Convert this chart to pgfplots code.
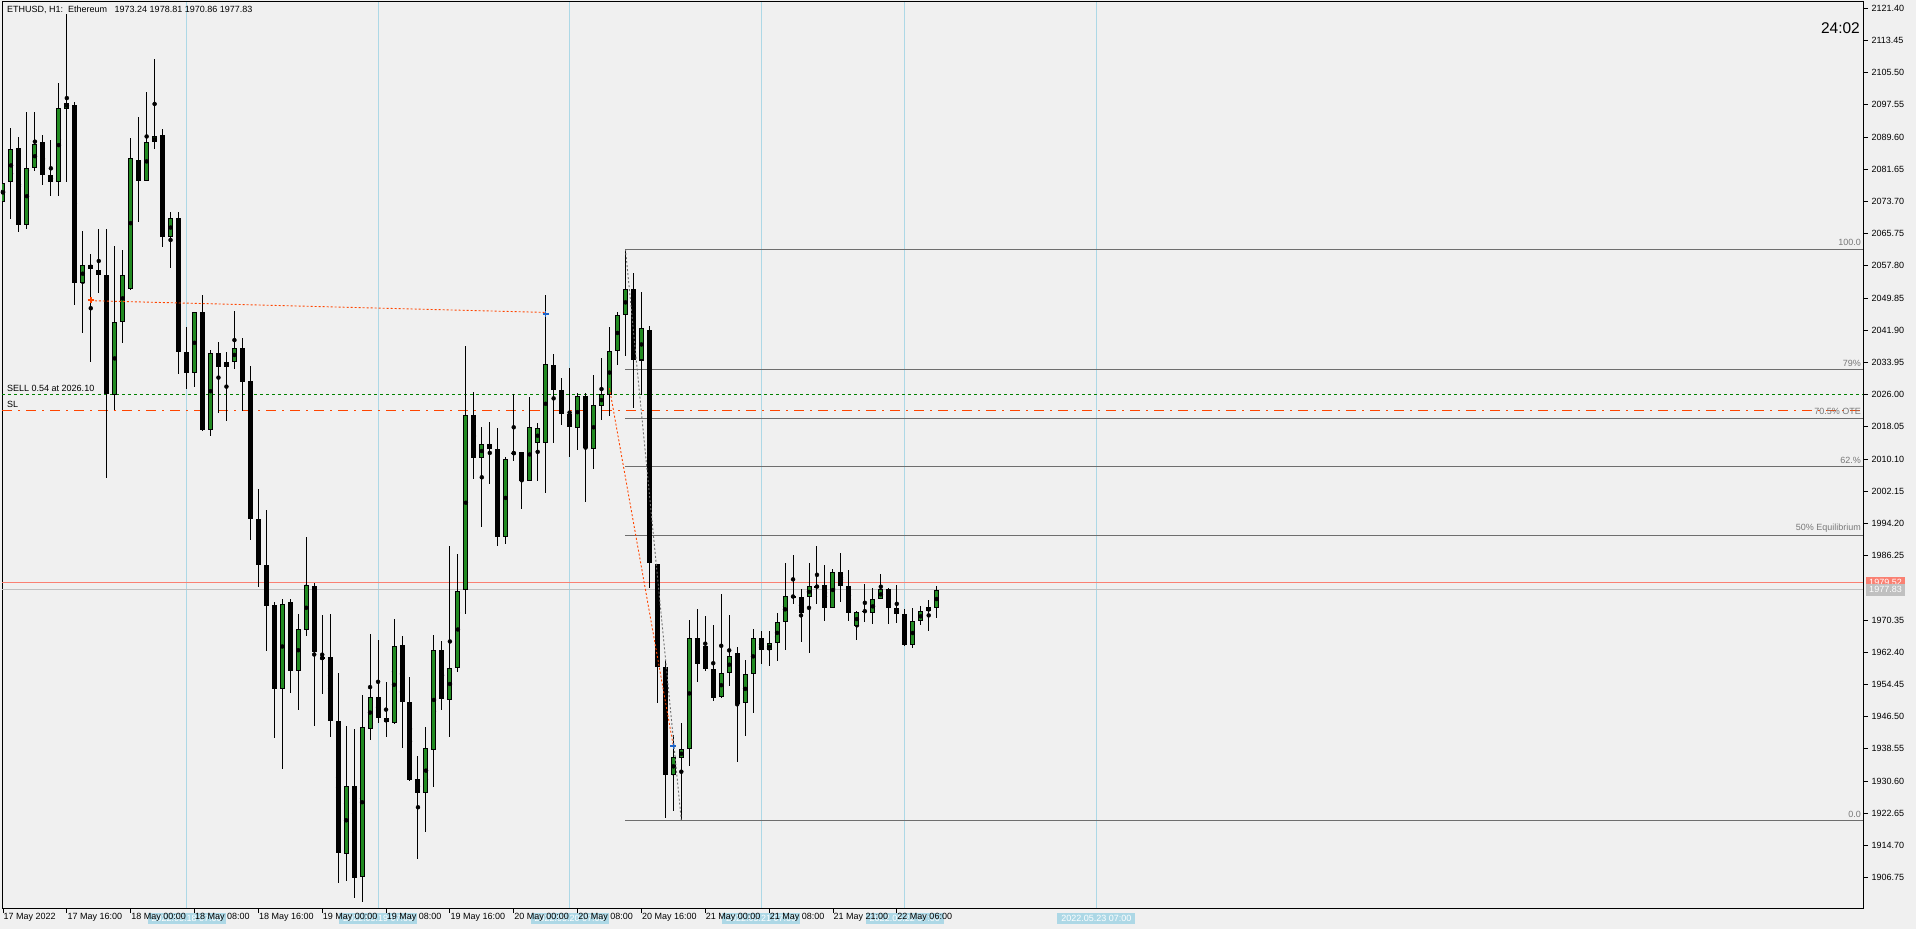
\documentclass[border=0pt]{standalone}
\usepackage{pgfplots}
\pgfplotsset{compat=1.18}
\usepackage{pgfplotstable}
\usepackage{fontspec}
\setmainfont{Liberation Sans}
\definecolor{bg}{RGB}{240,240,240}
\definecolor{candlegreen}{RGB}{34,139,34}
\definecolor{cyanline}{RGB}{173,216,230}
\definecolor{fibgray}{RGB}{110,110,110}
\definecolor{fibtext}{RGB}{120,120,120}
\definecolor{sellgreen}{RGB}{0,128,0}
\definecolor{slred}{RGB}{255,69,0}
\definecolor{bidsalmon}{RGB}{250,128,114}
\definecolor{lastgray}{RGB}{192,192,192}
\definecolor{markblue}{RGB}{30,100,200}
\newcommand{\chartfont}{\fontsize{9}{10}\selectfont}

\pgfplotstableread{
i o h l c
0 2073.57 2079.50 2072.80 2078.30
1 2078.59 2091.77 2069.42 2086.61
3 2067.98 2095.79 2066.83 2082.03
4 2081.89 2095.79 2081.17 2087.90
7 2078.45 2102.95 2075.15 2096.79
8 2096.65 2120.01 2078.45 2098.08
10 2053.65 2066.41 2041.32 2058.09
14 2025.99 2062.68 2022.26 2043.90
15 2044.05 2061.67 2038.88 2055.51
16 2052.21 2089.34 2051.78 2084.47
18 2078.87 2100.80 2078.73 2088.33
19 2088.33 2108.97 2086.61 2089.77
21 2064.83 2070.99 2057.38 2069.70
24 2031.29 2046.34 2028.00 2046.34
26 2017.38 2037.02 2015.67 2036.31
28 2032.86 2036.59 2019.39 2034.01
29 2034.01 2046.63 2032.29 2037.60
35 1953.21 1975.66 1933.67 1974.41
37 1957.68 1971.81 1948.22 1968.07
38 1967.86 1990.83 1966.30 1978.88
40 1960.69 1971.60 1951.96 1961.21
43 1912.47 1944.16 1905.81 1929.31
45 1906.85 1951.86 1900.72 1943.85
46 1943.54 1966.93 1940.63 1951.44
49 1944.89 1970.56 1944.69 1963.81
53 1927.64 1943.96 1918.08 1938.66
54 1938.35 1966.61 1928.99 1962.87
56 1950.71 1988.75 1941.36 1958.40
57 1958.61 1986.67 1957.57 1977.42
58 1977.73 2038.01 1971.81 2020.87
60 2010.26 2017.96 1993.22 2013.90
63 1990.77 2010.71 1989.16 2010.23
64 2011.50 2026.20 2009.67 2011.60
66 2004.56 2025.45 2004.56 2017.89
67 2014.01 2019.02 2004.75 2017.70
68 2014.01 2050.59 2001.82 2033.48
72 2017.70 2026.30 2012.41 2025.64
74 2012.50 2030.83 2007.59 2023.37
75 2023.09 2034.99 2019.78 2026.20
76 2026.02 2042.74 2020.72 2036.88
77 2036.88 2046.52 2033.39 2045.58
78 2045.58 2061.93 2035.65 2052.00
80 2034.43 2051.34 2025.83 2042.36
84 1931.99 1941.91 1923.10 1936.43
85 1936.24 1944.93 1920.84 1938.41
86 1938.41 1970.35 1934.16 1966.01
90 1951.27 1976.78 1951.17 1957.22
91 1957.17 1971.58 1954.13 1961.45
93 1949.76 1960.47 1941.78 1956.93
94 1956.93 1968.12 1947.46 1965.82
96 1962.85 1967.63 1959.07 1964.58
97 1964.58 1972.07 1960.30 1969.77
98 1969.77 1984.42 1963.02 1976.19
101 1975.94 1984.42 1962.28 1978.66
104 1973.39 1982.86 1973.39 1982.12
107 1968.95 1972.57 1965.49 1972.24
109 1971.99 1978.25 1969.44 1975.45
110 1975.45 1981.70 1975.45 1977.92
114 1964.25 1973.31 1963.51 1970.02
115 1970.02 1973.80 1969.19 1972.49
116 1972.49 1975.28 1967.71 1973.47
117 1973.24 1978.81 1970.86 1977.83
}\upcandles

\pgfplotstableread{
i o h l c
2 2086.90 2089.63 2066.12 2067.98
5 2088.33 2090.05 2077.87 2080.31
6 2080.16 2088.76 2075.00 2078.59
9 2097.65 2098.37 2048.06 2053.50
11 2058.09 2060.67 2034.01 2057.09
12 2056.80 2066.83 2051.21 2055.51
13 2055.51 2066.83 2005.49 2026.27
17 2084.03 2094.50 2068.70 2078.87
20 2090.05 2091.63 2062.54 2064.83
22 2069.56 2070.99 2031.00 2036.59
23 2036.45 2042.76 2027.28 2031.29
25 2046.34 2050.64 2017.10 2017.38
27 2036.31 2039.03 2021.40 2032.72
30 2037.60 2039.89 2021.97 2029.14
31 2029.28 2033.03 1990.00 1995.19
32 1995.19 2002.68 1978.57 1983.87
33 1983.87 1997.48 1962.77 1973.89
34 1974.00 1974.82 1941.26 1953.21
36 1974.72 1975.45 1952.27 1957.68
39 1978.67 1979.61 1944.06 1962.46
41 1961.31 1971.81 1941.36 1945.41
42 1945.31 1957.26 1905.50 1912.78
44 1929.31 1943.44 1901.66 1906.65
47 1951.44 1965.37 1944.79 1946.14
48 1946.04 1955.08 1941.36 1945.10
50 1964.12 1966.41 1938.86 1949.99
51 1949.99 1956.33 1930.65 1930.76
52 1930.97 1936.79 1911.43 1927.64
55 1962.87 1965.26 1948.01 1950.71
59 2021.07 2026.58 2005.28 2010.26
61 2013.92 2019.21 2004.00 2012.69
62 2012.69 2017.79 1988.69 1990.77
65 2011.75 2011.84 1997.85 2004.56
69 2033.29 2036.03 2014.11 2027.05
70 2027.05 2030.08 2018.55 2021.20
71 2021.10 2032.53 2010.61 2017.89
73 2025.64 2026.30 1999.56 2012.69
79 2052.19 2055.97 2022.71 2034.62
81 2042.08 2042.93 1978.29 1984.34
82 1984.06 1984.06 1949.94 1958.64
83 1958.64 1960.15 1921.40 1931.99
87 1966.01 1973.10 1955.14 1959.39
88 1963.83 1971.30 1957.70 1958.26
89 1958.26 1969.13 1950.23 1950.98
92 1962.11 1963.68 1935.36 1949.52
95 1965.82 1967.63 1959.56 1962.85
99 1976.19 1986.40 1974.38 1976.11
100 1975.94 1977.98 1964.99 1971.99
102 1978.66 1988.62 1974.38 1978.58
103 1978.91 1983.93 1970.18 1973.39
105 1982.12 1986.89 1974.87 1978.66
106 1978.66 1982.69 1970.18 1971.99
108 1972.57 1979.23 1969.93 1972.49
111 1977.92 1978.17 1969.44 1973.23
112 1973.23 1978.99 1969.69 1971.74
113 1971.74 1973.06 1964.01 1964.25
}\downcandles

\begin{document}
\begin{tikzpicture}
\path[use as bounding box] (0,0) rectangle (1916pt,929pt);
\fill[bg] (0,0) rectangle (1916pt,929pt);
\begin{axis}[
  at={(2pt,21pt)}, anchor=south west,
  width=1861pt, height=906pt, scale only axis,
  xmin=-0.125, xmax=233.08, ymin=1899.22, ymax=2122.96,
  clip mode=individual,
  axis line style={black, line width=1pt},
  xtick={0,8,...,112}, xticklabels={},
  ytick={1906.75,1914.70,1922.65,1930.60,1938.55,1946.50,1954.45,1962.40,1970.35,1986.25,1994.20,2002.15,2010.10,2018.05,2026.00,2033.95,2041.90,2049.85,2057.80,2065.75,2073.70,2081.65,2089.60,2097.55,2105.50,2113.45,2121.40},
  ytick pos=right, yticklabel pos=right, xtick pos=left,
  tick align=outside, major tick length=5pt,
  tick style={black, line width=0.8pt},
  scaled y ticks=false,
  /pgf/number format/assume math mode=true,
  yticklabel style={font=\chartfont, /pgf/number format/.cd, fixed, fixed zerofill, precision=2, 1000 sep={}},
]
% vertical day separators
\addplot[cyanline, line width=1pt, forget plot] coordinates {(23,1899.22) (23,2122.96)};
\addplot[cyanline, line width=1pt, forget plot] coordinates {(47,1899.22) (47,2122.96)};
\addplot[cyanline, line width=1pt, forget plot] coordinates {(71,1899.22) (71,2122.96)};
\addplot[cyanline, line width=1pt, forget plot] coordinates {(95,1899.22) (95,2122.96)};
\addplot[cyanline, line width=1pt, forget plot] coordinates {(113,1899.22) (113,2122.96)};
\addplot[cyanline, line width=1pt, forget plot] coordinates {(137,1899.22) (137,2122.96)};
% fibonacci levels
\addplot[fibgray, line width=1pt, forget plot] coordinates {(78,2061.9) (233.08,2061.9)};
\addplot[fibgray, line width=1pt, forget plot] coordinates {(78,2032.1) (233.08,2032.1)};
\addplot[fibgray, line width=1pt, forget plot] coordinates {(78,2020.2) (233.08,2020.2)};
\addplot[fibgray, line width=1pt, forget plot] coordinates {(78,2008.3) (233.08,2008.3)};
\addplot[fibgray, line width=1pt, forget plot] coordinates {(78,1991.3) (233.08,1991.3)};
\addplot[fibgray, line width=1pt, forget plot] coordinates {(78,1920.8) (233.08,1920.8)};
% order lines
\addplot[sellgreen, line width=1pt, dash pattern=on 3pt off 3pt, forget plot] coordinates {(-0.125,2026.10) (233.08,2026.10)};
\addplot[slred, line width=1.2pt, dash pattern=on 10pt off 6pt on 2pt off 6pt, forget plot] coordinates {(-0.125,2022.1) (233.08,2022.1)};
\addplot[bidsalmon, line width=1pt, forget plot] coordinates {(-0.125,1979.52) (233.08,1979.52)};
\addplot[lastgray, line width=1pt, forget plot] coordinates {(-0.125,1977.83) (233.08,1977.83)};
% wicks
\addplot[only marks, mark=none, forget plot, error bars/.cd, y dir=both, y explicit, error mark=none, error bar style={draw=black, line width=1pt}]
  table[x=i, y expr={(\thisrow{h}+\thisrow{l})/2}, y error expr={(\thisrow{h}-\thisrow{l})/2}] {\upcandles};
\addplot[only marks, mark=none, forget plot, error bars/.cd, y dir=both, y explicit, error mark=none, error bar style={draw=black, line width=1pt}]
  table[x=i, y expr={(\thisrow{h}+\thisrow{l})/2}, y error expr={(\thisrow{h}-\thisrow{l})/2}] {\downcandles};
% bodies
\addplot[only marks, mark=none, forget plot, error bars/.cd, y dir=both, y explicit, error mark=none, error bar style={draw=black, line width=5pt}]
  table[x=i, y expr={(\thisrow{o}+\thisrow{c})/2}, y error expr={max(abs(\thisrow{c}-\thisrow{o})/2,0.13)}] {\downcandles};
\addplot[only marks, mark=none, forget plot, error bars/.cd, y dir=both, y explicit, error mark=none, error bar style={draw=black, line width=5pt}]
  table[x=i, y expr={(\thisrow{o}+\thisrow{c})/2}, y error expr={max(abs(\thisrow{c}-\thisrow{o})/2,0.13)}] {\upcandles};
\addplot[only marks, mark=none, forget plot, error bars/.cd, y dir=both, y explicit, error mark=none, error bar style={draw=candlegreen, line width=3pt}]
  table[x=i, y expr={(\thisrow{o}+\thisrow{c})/2}, y error expr={max((\thisrow{c}-\thisrow{o})/2-0.25,0)}] {\upcandles};
% trade history lines and fib diagonal
\addplot[slred, line width=0.9pt, dash pattern=on 2pt off 2pt, forget plot] coordinates {(11,2049.2) (68,2046.3)};
\addplot[slred, line width=0.9pt, dash pattern=on 2pt off 2pt, forget plot] coordinates {(76,2027.6) (84,1939.2)};
\addplot[fibgray, line width=0.9pt, dash pattern=on 2pt off 2pt, forget plot] coordinates {(78,2061.9) (85,1920.8)};
\addplot[only marks, mark=+, mark size=3pt, line width=1.5pt, slred, forget plot] coordinates {(11,2049.4)};
\addplot[only marks, mark=+, mark size=3pt, line width=1.5pt, markblue, forget plot] coordinates {(68,2045.9) (84,1939.2)};
% texts
\node[anchor=north west, inner sep=0pt, font=\chartfont, xshift=5pt, yshift=-4pt] at (axis cs:-0.125,2122.96) {ETHUSD, H1:~~Ethereum~~~1973.24 1978.81 1970.86 1977.83};
\node[anchor=north east, inner sep=0pt, font=\fontsize{15.5}{17}\selectfont, xshift=-3pt, yshift=-20pt] at (axis cs:233.08,2122.96) {24:02};
\node[anchor=south west, inner sep=0pt, font=\chartfont, xshift=5pt, yshift=2.5pt] at (axis cs:-0.125,2026.10) {SELL 0.54 at 2026.10};
\node[anchor=south west, inner sep=0pt, font=\chartfont, xshift=5pt, yshift=2.5pt] at (axis cs:-0.125,2022.1) {SL};
\node[anchor=south east, inner sep=0pt, font=\chartfont, text=fibtext, xshift=-2pt, yshift=3pt] at (axis cs:233.08,2061.9) {100.0};
\node[anchor=south east, inner sep=0pt, font=\chartfont, text=fibtext, xshift=-2pt, yshift=3pt] at (axis cs:233.08,2032.1) {79\%};
\node[anchor=south east, inner sep=0pt, font=\chartfont, text=fibtext, xshift=-2pt, yshift=3pt] at (axis cs:233.08,2020.2) {70.5\% OTE};
\node[anchor=south east, inner sep=0pt, font=\chartfont, text=fibtext, xshift=-2pt, yshift=3pt] at (axis cs:233.08,2008.3) {62.\%};
\node[anchor=south east, inner sep=0pt, font=\chartfont, text=fibtext, xshift=-2pt, yshift=3pt] at (axis cs:233.08,1991.3) {50\% Equilibrium};
\node[anchor=south east, inner sep=0pt, font=\chartfont, text=fibtext, xshift=-2pt, yshift=3pt] at (axis cs:233.08,1920.8) {0.0};
% price boxes
\node[anchor=west, fill=bidsalmon, text=white, font=\chartfont, inner xsep=3pt, inner ysep=0pt, minimum height=12pt, xshift=3pt] at (axis cs:233.08,1979.52) {1979.52};
\node[anchor=west, fill=lastgray, text=white, font=\chartfont, inner xsep=3pt, inner ysep=0pt, minimum height=12pt, xshift=3pt] at (axis cs:233.08,1977.83) {1977.83};
% separator date boxes
\foreach \xx/\lab in {23/2022.05.18 07:00, 47/2022.05.19 07:00, 71/2022.05.20 07:00, 95/2022.05.21 07:00, 113/2022.05.22 07:00, 137/2022.05.23 07:00} {
  \edef\temp{\noexpand\node[anchor=north, fill=cyanline, text=white, font=\noexpand\chartfont, minimum width=78pt, minimum height=11pt, inner sep=0pt, yshift=-4.5pt] at (axis cs:\xx,1899.22) {\lab};}
  \temp
}
% x labels
\foreach \xx/\lab in {0/17 May 2022, 8/17 May 16:00, 16/18 May 00:00, 24/18 May 08:00, 32/18 May 16:00, 40/19 May 00:00, 48/19 May 08:00, 56/19 May 16:00, 64/20 May 00:00, 72/20 May 08:00, 80/20 May 16:00, 88/21 May 00:00, 96/21 May 08:00, 104/21 May 21:00, 112/22 May 06:00} {
  \edef\temp{\noexpand\node[anchor=north west, inner sep=0pt, font=\noexpand\chartfont, xshift=0.5pt, yshift=-5pt] at (axis cs:\xx,1899.22) {\lab};}
  \temp
}
\end{axis}
\end{tikzpicture}
\end{document}
